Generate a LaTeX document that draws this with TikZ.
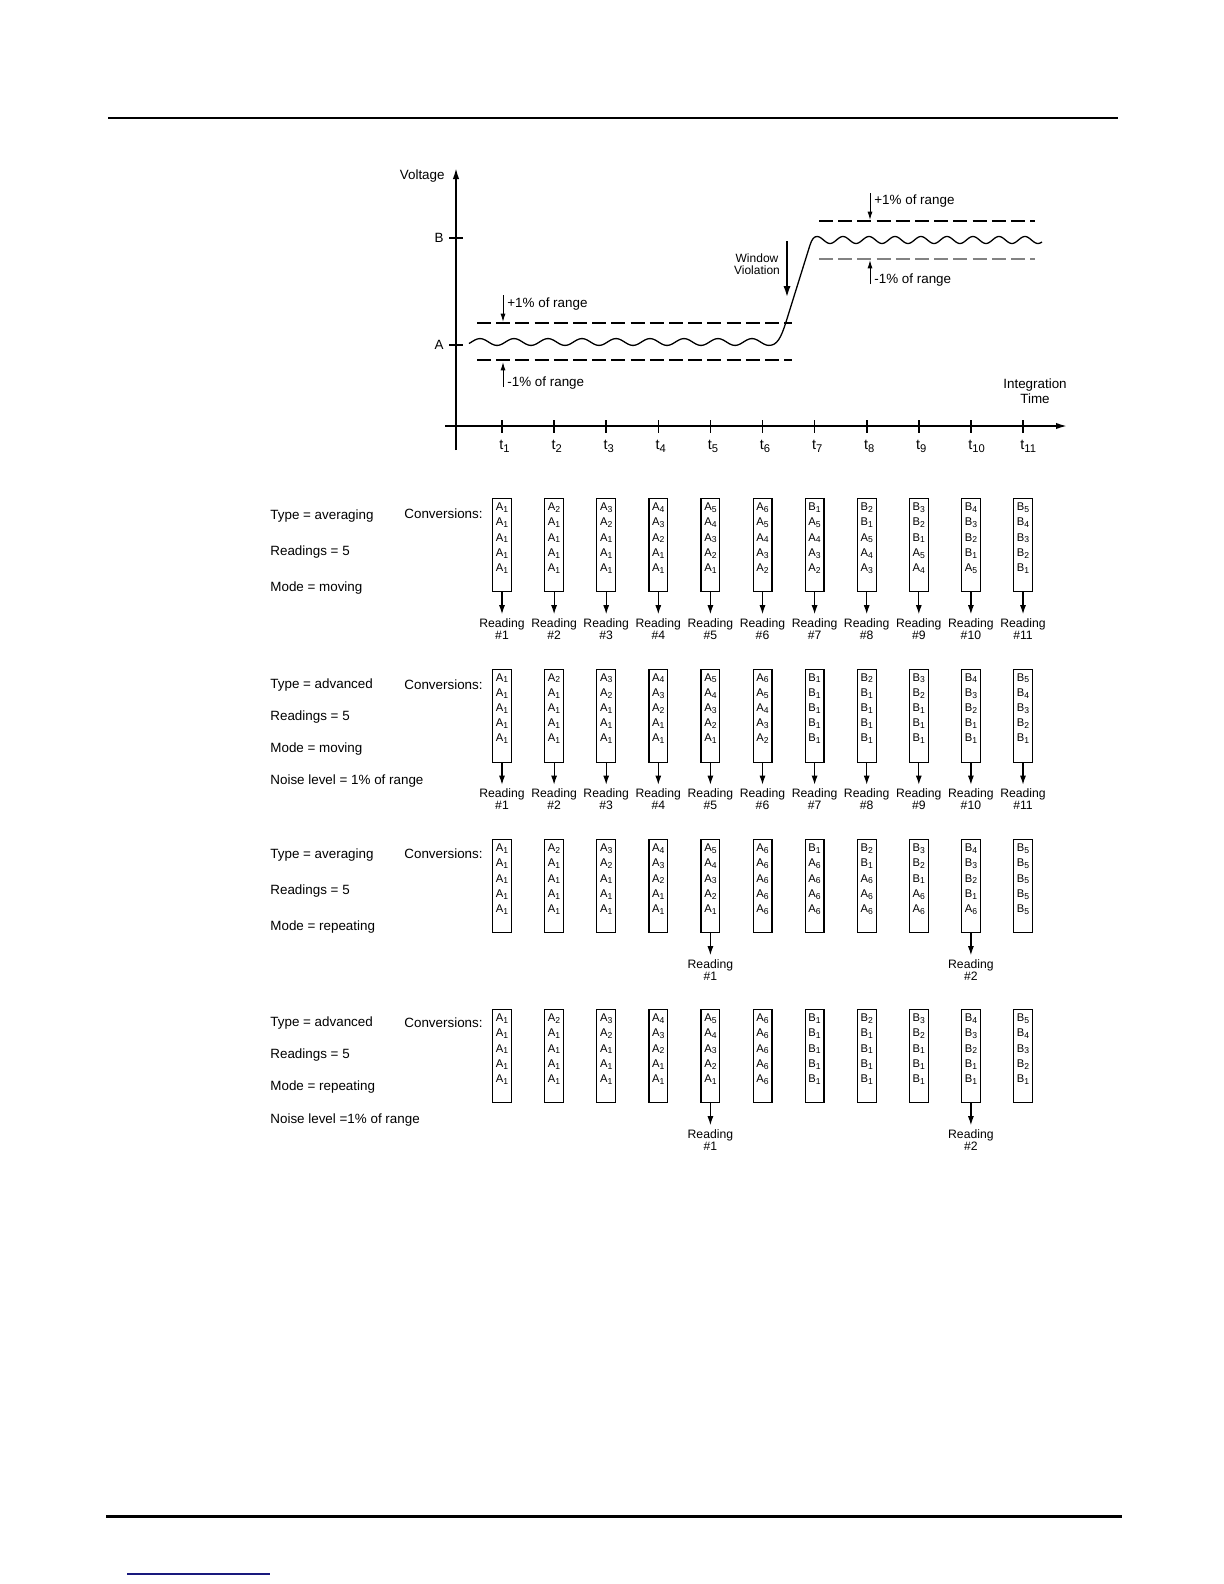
\documentclass[tikz,border=0pt]{standalone}
\usepackage{fontspec}
\setmainfont{Liberation Sans}
\usetikzlibrary{arrows.meta}
\newcommand\fsz[2]{\fontsize{#1}{#2}\selectfont}
\newcommand\cv[2]{#1\raisebox{-0.9pt}{\fontsize{4.3pt}{4.3pt}\selectfont #2}}
\newcommand\tsub[1]{t\raisebox{-1.4pt}{\fontsize{5.6pt}{5.6pt}\selectfont #1}}
\newcommand\col[5]{\cv#1\\\cv#2\\\cv#3\\\cv#4\\\cv#5}
\definecolor{navyline}{RGB}{25,25,125}
\definecolor{dashgray}{RGB}{130,130,130}
\tikzset{
  lbl/.style={font=\fsz{6.7pt}{7.5pt}, inner sep=0pt, anchor=west},
  conv/.style={draw, line width=0.6pt, minimum width=9.4pt, minimum height=46.5pt, anchor=north, inner sep=0pt},
  convtext/.style={font=\fsz{5.6pt}{7.6pt}, align=center, inner sep=0pt, anchor=north},
  rd/.style={font=\fsz{6.1pt}{5.9pt}, align=center, inner sep=2pt, anchor=north},
  rdarrow/.style={-{Latex[length=4.5pt,width=3pt]}, line width=0.6pt},
  axis/.style={line width=0.85pt, -{Latex[length=5.5pt,width=3.2pt]}},
  tick/.style={line width=0.8pt},
  smallarrow/.style={line width=0.5pt, -{Latex[length=4.2pt,width=2.5pt]}},
  bigarrow/.style={line width=1.4pt, -{Latex[length=6pt,width=3.6pt]}},
  thindash/.style={line width=0.55pt, dash pattern=on 7pt off 2.6pt},
  thickdash/.style={line width=1.1pt, dash pattern=on 7pt off 2.6pt},
  graydash/.style={line width=1.1pt, dash pattern=on 7pt off 2.6pt, draw=dashgray},
  wave/.style={line width=0.65pt, line join=round},
}
\newcommand\convrow[3]{%
  \foreach \cc [count=\i] in {#3} {
    \pgfmathsetmacro\xx{502+52.1*(\i-1)}
    \node[conv] (#1c\i) at (\xx,#2) {};
    \node[convtext] (#1t\i) at ({\xx},{#2+4.5}) {\cc};
  }%
}
\newcommand\readat[3]{% row name, column, reading number
  \node[rd] (#1r#2) at (#1c#2.south) [yshift=-11pt] {Reading\\\##3};
  \draw[rdarrow] (#1c#2.south) -- (#1r#2.north);
}
\begin{document}
\begin{tikzpicture}[x=0.5pt,y=-0.5pt]
\useasboundingbox (0,0) rectangle (1224,1584);
% page rules
\draw[line width=0.8pt] (108,118) -- (1118,118);
\draw[line width=1.5pt] (106,1516) -- (1122,1516);
\draw[navyline, line width=0.8pt] (127,1574) -- (270,1574);

% ---------------- graph ----------------
\coordinate (ybot) at (456,450);
\coordinate (ytop) at (456,168);
\coordinate (xleft) at (445,426);
\coordinate (xright) at (1067,426);
\draw[axis] (ybot) -- (ytop);
\draw[axis] (xleft) -- (xright);
\node[lbl, anchor=east] (voltage) at (445,176) {Voltage};
\foreach \i in {1,...,11} {
  \pgfmathsetmacro\xx{502+52.1*(\i-1)}
  \draw[tick] (\xx,420) -- (\xx,433);
  \node[font=\fsz{7.2pt}{8pt}, inner sep=0pt, anchor=west] (t\i) at ({\xx-3},446) {\tsub{\i}};
}
\draw[tick] (449,345) -- (463,345);
\draw[tick] (449,238) -- (463,238);
\node[lbl, anchor=east] (labA) at (444,345) {A};
\node[lbl, anchor=east] (labB) at (444,238) {B};

% window lines
\draw[thindash] (477,323) -- (792,323);
\draw[thickdash] (477,360) -- (792,360);
\draw[thindash] (819,221) -- (1035,221);
\draw[graydash] (819,259) -- (1035,259);

% signal
\draw[wave] plot[domain=469:769, samples=220, smooth] (\x,{342-3.4*cos(10.5882*(\x-480))})
  .. controls (777,345.4) and (781,338) .. (786,322) -- (810,245)
  .. controls (812,239) and (814,236.5) .. (817,236.5);
\draw[wave] plot[domain=817:1042, samples=180, smooth] (\x,{240-3.5*cos(13.85*(\x-817))});

% range arrows
\coordinate (pA1) at (503,295); \coordinate (pA2) at (503,322);
\coordinate (mA1) at (503,387); \coordinate (mA2) at (503,362);
\coordinate (pB1) at (870,193); \coordinate (pB2) at (870,220);
\coordinate (mB1) at (870,284); \coordinate (mB2) at (870,260);
\draw[smallarrow] (pA1) -- (pA2);
\draw[smallarrow] (mA1) -- (mA2);
\draw[smallarrow] (pB1) -- (pB2);
\draw[smallarrow] (mB1) -- (mB2);
\node[lbl] (plusA) at (507,304) {+1\% of range};
\node[lbl] (minusA) at (507,383) {-1\% of range};
\node[lbl] (plusB) at (874,201) {+1\% of range};
\node[lbl] (minusB) at (874,280) {-1\% of range};

\coordinate (wv1) at (787,241); \coordinate (wv2) at (787,298);
\draw[bigarrow] (wv1) -- (wv2);
\node[font=\fsz{6pt}{6pt}, align=center, inner sep=0pt] (wvlab) at (757,264) {Window\\Violation};
\node[font=\fsz{6.7pt}{7.5pt}, align=center, inner sep=0pt] (intlab) at (1035,391) {Integration\\Time};

% ---------------- conversion rows ----------------
% Row 1
\node[lbl] (r1type) at (270,516) {Type = averaging};
\node[lbl] (r1read) at (270,552) {Readings = 5};
\node[lbl] (r1mode) at (270,588) {Mode = moving};
\node[lbl] (r1conv) at (404,514) {Conversions:};
\convrow{r1}{498}{{\col{A1}{A1}{A1}{A1}{A1}},{\col{A2}{A1}{A1}{A1}{A1}},{\col{A3}{A2}{A1}{A1}{A1}},{\col{A4}{A3}{A2}{A1}{A1}},{\col{A5}{A4}{A3}{A2}{A1}},{\col{A6}{A5}{A4}{A3}{A2}},{\col{B1}{A5}{A4}{A3}{A2}},{\col{B2}{B1}{A5}{A4}{A3}},{\col{B3}{B2}{B1}{A5}{A4}},{\col{B4}{B3}{B2}{B1}{A5}},{\col{B5}{B4}{B3}{B2}{B1}}}
\foreach \i in {1,...,11} {\readat{r1}{\i}{\i}}

% Row 2
\node[lbl] (r2type) at (270,685) {Type = advanced};
\node[lbl] (r2read) at (270,717) {Readings = 5};
\node[lbl] (r2mode) at (270,749) {Mode = moving};
\node[lbl] (r2noise) at (270,781) {Noise level = 1\% of range};
\node[lbl] (r2conv) at (404,685) {Conversions:};
\convrow{r2}{668.5}{{\col{A1}{A1}{A1}{A1}{A1}},{\col{A2}{A1}{A1}{A1}{A1}},{\col{A3}{A2}{A1}{A1}{A1}},{\col{A4}{A3}{A2}{A1}{A1}},{\col{A5}{A4}{A3}{A2}{A1}},{\col{A6}{A5}{A4}{A3}{A2}},{\col{B1}{B1}{B1}{B1}{B1}},{\col{B2}{B1}{B1}{B1}{B1}},{\col{B3}{B2}{B1}{B1}{B1}},{\col{B4}{B3}{B2}{B1}{B1}},{\col{B5}{B4}{B3}{B2}{B1}}}
\foreach \i in {1,...,11} {\readat{r2}{\i}{\i}}

% Row 3
\node[lbl] (r3type) at (270,855) {Type = averaging};
\node[lbl] (r3read) at (270,891) {Readings = 5};
\node[lbl] (r3mode) at (270,927) {Mode = repeating};
\node[lbl] (r3conv) at (404,854) {Conversions:};
\convrow{r3}{839}{{\col{A1}{A1}{A1}{A1}{A1}},{\col{A2}{A1}{A1}{A1}{A1}},{\col{A3}{A2}{A1}{A1}{A1}},{\col{A4}{A3}{A2}{A1}{A1}},{\col{A5}{A4}{A3}{A2}{A1}},{\col{A6}{A6}{A6}{A6}{A6}},{\col{B1}{A6}{A6}{A6}{A6}},{\col{B2}{B1}{A6}{A6}{A6}},{\col{B3}{B2}{B1}{A6}{A6}},{\col{B4}{B3}{B2}{B1}{A6}},{\col{B5}{B5}{B5}{B5}{B5}}}
\readat{r3}{5}{1}
\readat{r3}{10}{2}

% Row 4
\node[lbl] (r4type) at (270,1023) {Type = advanced};
\node[lbl] (r4read) at (270,1055) {Readings = 5};
\node[lbl] (r4mode) at (270,1087) {Mode = repeating};
\node[lbl] (r4noise) at (270,1120) {Noise level =1\% of range};
\node[lbl] (r4conv) at (404,1023) {Conversions:};
\convrow{r4}{1009}{{\col{A1}{A1}{A1}{A1}{A1}},{\col{A2}{A1}{A1}{A1}{A1}},{\col{A3}{A2}{A1}{A1}{A1}},{\col{A4}{A3}{A2}{A1}{A1}},{\col{A5}{A4}{A3}{A2}{A1}},{\col{A6}{A6}{A6}{A6}{A6}},{\col{B1}{B1}{B1}{B1}{B1}},{\col{B2}{B1}{B1}{B1}{B1}},{\col{B3}{B2}{B1}{B1}{B1}},{\col{B4}{B3}{B2}{B1}{B1}},{\col{B5}{B4}{B3}{B2}{B1}}}
\readat{r4}{5}{1}
\readat{r4}{10}{2}
\end{tikzpicture}
\end{document}
